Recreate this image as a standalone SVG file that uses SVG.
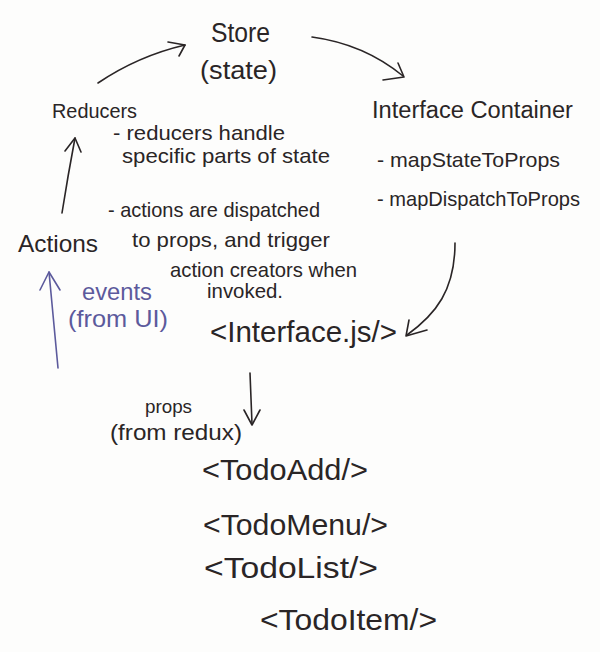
<svg xmlns="http://www.w3.org/2000/svg" width="600" height="652" viewBox="0 0 600 652">
<style>
text{font-family:"Liberation Sans",Arial,sans-serif;fill:#2a2526}
.blue{fill:#5c5a9c}
.ink{fill:none;stroke:#2a2526;stroke-width:1.6;stroke-linecap:round;stroke-linejoin:round}
.bink{fill:none;stroke:#5c5a9c;stroke-width:1.6;stroke-linecap:round;stroke-linejoin:round}
</style>
<rect width="600" height="652" fill="#fdfdfc"/>
<g id="store">
<text x="211" y="42" font-size="27" textLength="59" lengthAdjust="spacingAndGlyphs">Store</text>
<text x="200" y="79" font-size="26" textLength="77" lengthAdjust="spacingAndGlyphs">(state)</text>
</g>
<g id="reducers">
<text x="52" y="118" font-size="20" textLength="85" lengthAdjust="spacingAndGlyphs">Reducers</text>
<text x="113" y="140" font-size="21" textLength="172" lengthAdjust="spacingAndGlyphs">- reducers handle</text>
<text x="122" y="163" font-size="21" textLength="208" lengthAdjust="spacingAndGlyphs">specific parts of state</text>
</g>
<g id="interface-container">
<text x="372" y="118" font-size="23" textLength="201" lengthAdjust="spacingAndGlyphs">Interface Container</text>
<text x="377" y="167" font-size="21" textLength="183" lengthAdjust="spacingAndGlyphs">- mapStateToProps</text>
<text x="377" y="206" font-size="21" textLength="203" lengthAdjust="spacingAndGlyphs">- mapDispatchToProps</text>
</g>
<g id="actions">
<text x="18" y="252" font-size="24" textLength="80" lengthAdjust="spacingAndGlyphs">Actions</text>
<text x="108" y="217" font-size="21" textLength="212" lengthAdjust="spacingAndGlyphs">- actions are dispatched</text>
<text x="132" y="247" font-size="21" textLength="198" lengthAdjust="spacingAndGlyphs">to props, and trigger</text>
<text x="170" y="277" font-size="21" textLength="187" lengthAdjust="spacingAndGlyphs">action creators when</text>
<text x="207" y="298" font-size="21" textLength="76" lengthAdjust="spacingAndGlyphs">invoked.</text>
</g>
<g id="events">
<text class="blue" x="82" y="300" font-size="23" textLength="70" lengthAdjust="spacingAndGlyphs">events</text>
<text class="blue" x="68" y="327" font-size="24" textLength="100" lengthAdjust="spacingAndGlyphs">(from UI)</text>
</g>
<g id="interface-js">
<text x="210" y="342" font-size="29" textLength="187" lengthAdjust="spacingAndGlyphs">&lt;Interface.js/&gt;</text>
</g>
<g id="props-label">
<text x="145" y="413" font-size="19" textLength="47" lengthAdjust="spacingAndGlyphs">props</text>
<text x="110" y="440" font-size="22" textLength="132" lengthAdjust="spacingAndGlyphs">(from redux)</text>
</g>
<g id="todo-add">
<text x="202" y="480" font-size="30" textLength="166" lengthAdjust="spacingAndGlyphs">&lt;TodoAdd/&gt;</text>
</g>
<g id="todo-menu">
<text x="203" y="535" font-size="30" textLength="185" lengthAdjust="spacingAndGlyphs">&lt;TodoMenu/&gt;</text>
</g>
<g id="todo-list">
<text x="204" y="578" font-size="30" textLength="174" lengthAdjust="spacingAndGlyphs">&lt;TodoList/&gt;</text>
</g>
<g id="todo-item">
<text x="260" y="630" font-size="30" textLength="177" lengthAdjust="spacingAndGlyphs">&lt;TodoItem/&gt;</text>
</g>
<g id="connectors">
<path class="ink" d="M98,83 Q138,56 185,45"/>
<path class="ink" d="M168,42 L185,45 L179,56"/>
<path class="ink" d="M312,37 Q364,44 403,76"/>
<path class="ink" d="M398,63 L404,77 L383,80"/>
<path class="ink" d="M62,213 Q68,175 75,138"/>
<path class="ink" d="M65,151 L75,138 L81,152"/>
<path class="bink" d="M58,368 L49,272"/>
<path class="bink" d="M40,290 L49,272 L60,290"/>
<path class="ink" d="M455,243 C455,290 436,314 407,335"/>
<path class="ink" d="M409,320 L406,336 L427,330"/>
<path class="ink" d="M250,373 L252,424"/>
<path class="ink" d="M244,410 L252,425 L260,410"/>
</g>
</svg>
